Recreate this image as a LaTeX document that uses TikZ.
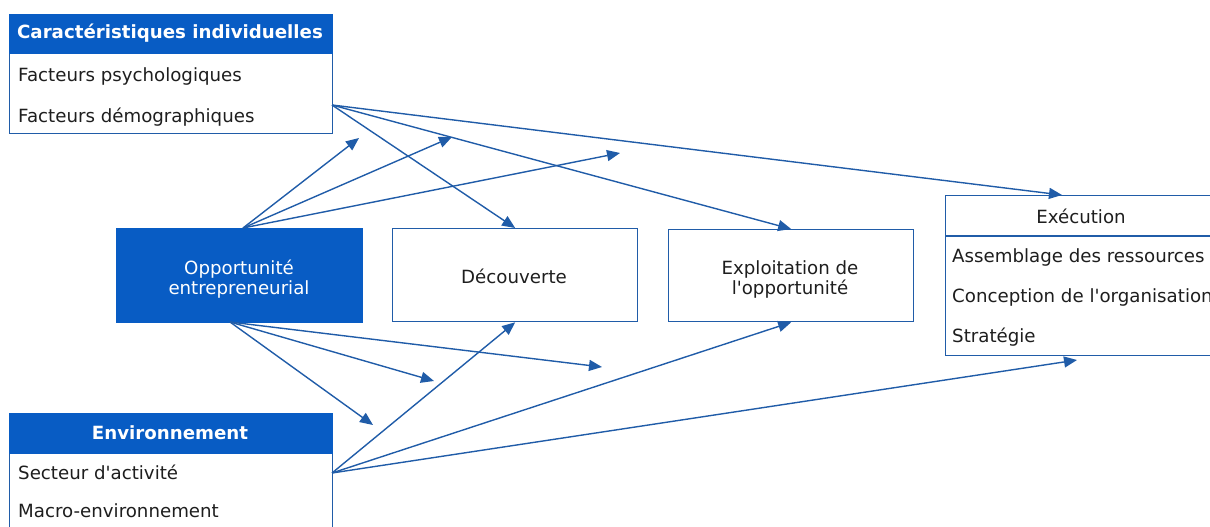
\documentclass[tikz,border=0pt]{standalone}
\usepackage{fontspec}
\setmainfont{DejaVu Sans}
\usetikzlibrary{arrows.meta,calc}
\definecolor{mblue}{RGB}{8,92,196}
\definecolor{lblue}{RGB}{32,92,168}
\definecolor{tgray}{RGB}{30,30,30}
\begin{document}
\begin{tikzpicture}[x=1pt,y=-1pt,
  font=\fontsize{18.2}{20}\selectfont,
  wbox/.style={draw=lblue, line width=1.3pt, fill=white, inner sep=0pt, anchor=north west},
  bbox/.style={draw=mblue, fill=mblue, line width=1.3pt, inner sep=0pt, anchor=north west},
  arr/.style={draw=lblue, line width=1.4pt, -{Triangle[length=13pt,width=11pt]}},
  lab/.style={anchor=west, inner sep=0pt, text=tgray},
  hlab/.style={inner sep=0pt, text=white, font=\fontsize{18.2}{20}\selectfont\bfseries},
  clab/.style={inner sep=0pt, align=center, text=tgray},
]
\useasboundingbox (0,0) rectangle (1210,527);
\clip (0,0) rectangle (1210,527);

% Caractéristiques individuelles
\node[wbox, minimum width=323pt, minimum height=119pt] (car) at (9,14) {};
\node[bbox, minimum width=323pt, minimum height=39pt] (carh) at (9,14) {};
\node[hlab] (carht) at (170,33) {Caractéristiques individuelles};
\node[lab] (car1) at (18,76) {Facteurs psychologiques};
\node[lab] (car2) at (18,117) {Facteurs démographiques};

% Environnement
\node[wbox, minimum width=323pt, minimum height=140pt] (env) at (9,413) {};
\node[bbox, minimum width=323pt, minimum height=40pt] (envh) at (9,413) {};
\node[hlab] (envht) at (170,433) {Environnement};
\node[lab] (env1) at (18,472) {Secteur d\textquotesingle activité};
\node[lab] (env2) at (18,511) {Macro-environnement};

% Opportunité
\node[bbox, minimum width=246pt, minimum height=94pt] (opp) at (116,228) {};
\node[clab, text=white] (oppt) at (239,279) {Opportunité\\entrepreneurial};

% Découverte
\node[wbox, minimum width=245pt, minimum height=93pt] (dec) at (392,228) {};
\node[clab] (dect) at (514,276) {Découverte};

% Exploitation
\node[wbox, minimum width=245pt, minimum height=92pt] (expl) at (668,229) {};
\node[clab] (explt) at (790,279) {Exploitation de\\l\textquotesingle opportunité};

% Exécution
\node[wbox, minimum width=272pt, minimum height=160pt] (exec) at (945,195) {};
\draw[draw=lblue, line width=1.3pt] (exec.north west |- 0,236) -- (exec.north east |- 0,236);
\node[clab] (exect) at (1081,216) {Exécution};
\node[lab] (exec1) at (952,257) {Assemblage des ressources};
\node[lab] (exec2) at (952,297) {Conception de l\textquotesingle organisation};
\node[lab] (exec3) at (952,337) {Stratégie};

% connection points
\coordinate (cs) at (332,105);
\coordinate (es) at (332,473);
\coordinate (ot) at (243,228);
\coordinate (ob) at (230,322);
\coordinate (et) at (1062,195);
\coordinate (eb) at (1077,360);
\coordinate (m1) at (359,138);
\coordinate (m2) at (452,137);
\coordinate (m3) at (620,153);
\coordinate (m4) at (373,425);
\coordinate (m5) at (434,381);
\coordinate (m6) at (602,367);

% arrows
\draw[arr] (cs) -- (dec.north);
\draw[arr] (cs) -- (expl.north);
\draw[arr] (cs) -- (et);
\draw[arr] (ot) -- (m1);
\draw[arr] (ot) -- (m2);
\draw[arr] (ot) -- (m3);
\draw[arr] (ob) -- (m4);
\draw[arr] (ob) -- (m5);
\draw[arr] (ob) -- (m6);
\draw[arr] (es) -- (dec.south);
\draw[arr] (es) -- (expl.south);
\draw[arr] (es) -- (eb);
\end{tikzpicture}
\end{document}
